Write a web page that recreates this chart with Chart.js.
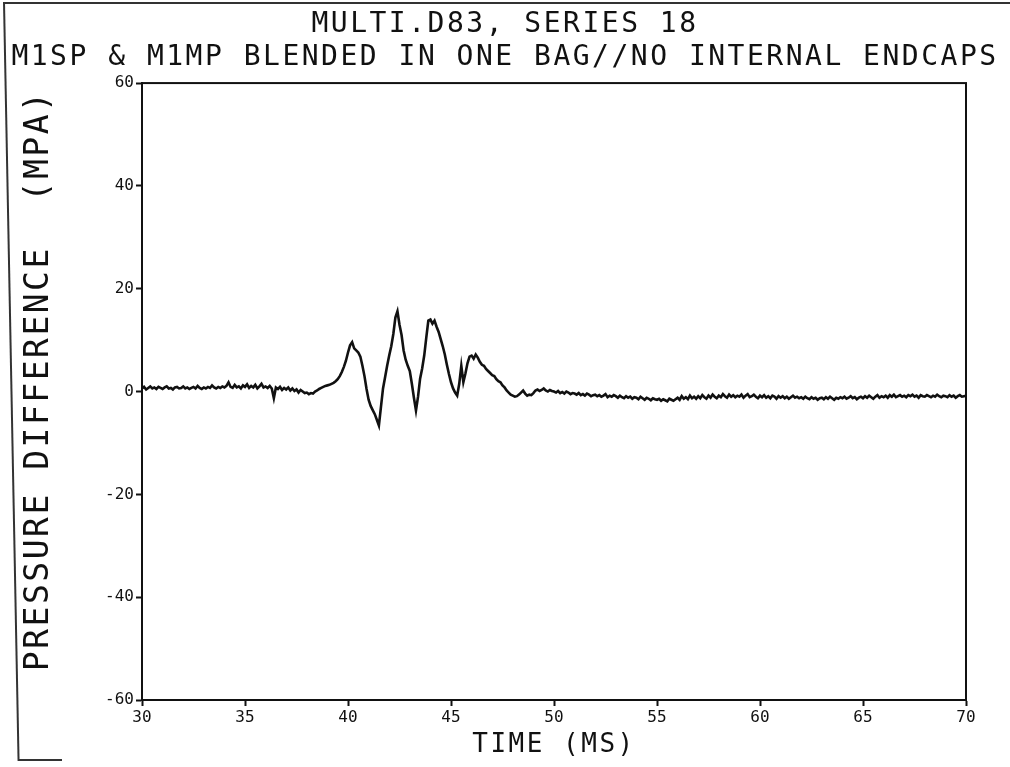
<!DOCTYPE html>
<html>
<head>
<meta charset="utf-8">
<title>MULTI.D83, SERIES 18</title>
<script src="https://cdn.jsdelivr.net/npm/chart.js@4.4.1/dist/chart.umd.min.js"></script>
<style>
    html, body { margin: 0; padding: 0; background: #fff; }
    #wrap { position: relative; width: 1010px; height: 767px; overflow: hidden; background: #fff; }
    #sheet { position: absolute; left: 3px; top: 2px; width: 1010px; height: 757px;
             border-top: 2px solid #333; border-left: 2px solid #333;
             transform: skewX(1.1deg); transform-origin: 0 0; }
    #sheetFoot { position: absolute; left: 18px; top: 759px; width: 44px; border-top: 2px solid #333; }
    canvas { position: absolute; left: 0; top: 0; }
</style>
</head>
<body>
<div id="wrap">
    <div id="sheet"></div>
    <div id="sheetFoot"></div>
    <canvas id="traceChart" width="1010" height="767"></canvas>
</div>
<script>
var titleLines = ['MULTI.D83, SERIES 18', 'M1SP & M1MP BLENDED IN ONE BAG//NO INTERNAL ENDCAPS'];
var xTitle = 'TIME (MS)';
// the plotter put this label a little above the middle of the axis
var yTitle = '\u00a0PRESSURE DIFFERENCE  (MPA)';
var xTicks = [30, 35, 40, 45, 50, 55, 60, 65, 70];
var yTicks = [-60, -40, -20, 0, 20, 40, 60];

// sampled every 0.1 ms from 30 ms, one row per ms
var timeStartMs = 30;
var timeStepMs = 0.1;
var pressureMpa = [
    0.6, 0.9, 0.4, 0.7, 1.0, 0.6, 0.8, 0.5, 0.9, 0.7,
    0.5, 0.8, 1.0, 0.6, 0.7, 0.4, 0.8, 0.9, 0.6, 0.7,
    1.0, 0.6, 0.8, 0.5, 0.7, 0.9, 0.6, 1.1, 0.7, 0.5,
    0.8, 0.6, 0.9, 0.7, 1.2, 0.8, 0.6, 0.9, 0.7, 1.0,
    0.8, 1.1, 1.8, 0.9, 0.7, 1.3, 0.8, 1.0, 0.6, 1.2,
    0.9, 1.4, 0.7, 1.1, 0.8, 1.3, 0.6, 1.0, 1.5, 0.8,
    1.0, 0.7, 1.1, 0.6, -1.3, 0.8, 0.5, 0.9, 0.3, 0.7,
    0.4, 0.8, 0.2, 0.6, 0.1, 0.4, -0.2, 0.3, 0.0, -0.3,
    -0.2, -0.5, -0.3, -0.4, 0.0, 0.2, 0.5, 0.7, 0.9, 1.1,
    1.2, 1.3, 1.5, 1.7, 2.0, 2.4, 3.0, 3.8, 4.8, 6.0,
    7.6, 9.0, 9.6, 8.4, 8.0, 7.6, 6.8, 5.0, 3.0, 0.5,
    -1.6, -2.8, -3.6, -4.4, -5.5, -6.6, -3.0, 0.6, 2.8, 5.0,
    7.0, 8.8, 11.2, 14.4, 15.6, 13.0, 11.0, 8.0, 6.2, 5.0,
    4.0, 1.5, -1.2, -3.7, -1.0, 2.5, 4.5, 7.0, 10.5, 13.8,
    14.0, 13.2, 13.8, 12.6, 11.6, 10.2, 8.8, 7.2, 5.2, 3.4,
    1.8, 0.6, -0.2, -0.8, 1.5, 5.0, 1.8, 3.5, 5.5, 6.8,
    7.0, 6.4, 7.2, 6.6, 5.8, 5.2, 5.0, 4.4, 4.0, 3.6,
    3.2, 3.0, 2.4, 2.0, 1.8, 1.2, 0.8, 0.2, -0.2, -0.6,
    -0.8, -1.0, -0.9, -0.6, -0.2, 0.2, -0.4, -0.8, -0.6, -0.7,
    -0.3, 0.2, 0.4, 0.1, 0.3, 0.6, 0.2, 0.0, 0.3, 0.1,
    0.0, -0.2, 0.1, -0.3, -0.1, -0.4, 0.0, -0.2, -0.5, -0.3,
    -0.4, -0.6, -0.3, -0.7, -0.5, -0.8, -0.4, -0.6, -0.9, -0.7,
    -0.6, -0.9, -0.7, -1.0, -0.8, -0.5, -1.1, -0.8, -1.0, -0.7,
    -0.9, -1.2, -0.8, -1.1, -1.3, -0.9, -1.2, -1.0, -1.4, -1.1,
    -1.2, -1.5, -1.0, -1.3, -1.6, -1.2, -1.4, -1.7, -1.3, -1.5,
    -1.6, -1.4, -1.8, -1.5, -1.7, -1.9, -1.4, -1.6, -1.8, -1.5,
    -1.2, -1.6, -0.9, -1.4, -1.1, -1.5, -0.8, -1.3, -1.0, -1.4,
    -0.9, -1.3, -0.7, -1.1, -1.4, -0.8, -1.2, -0.6, -1.0, -1.3,
    -0.8, -1.1, -0.5, -0.9, -1.2, -0.6, -1.0, -0.7, -1.1, -0.8,
    -1.0, -0.6, -1.2, -0.8, -0.5, -1.1, -0.9, -0.6, -1.0, -1.3,
    -0.8, -1.1, -0.7, -1.2, -0.9, -1.3, -0.8, -1.0, -1.4, -0.9,
    -1.2, -0.9, -1.3, -1.0, -1.4, -1.1, -0.8, -1.2, -1.0, -1.3,
    -1.1, -1.4, -1.0, -1.3, -1.5, -1.1, -1.4, -1.2, -1.6, -1.3,
    -1.2, -1.5, -1.1, -1.4, -1.0, -1.3, -1.6, -1.2, -1.4, -1.1,
    -1.3, -1.0, -1.4, -1.2, -0.9, -1.3, -1.1, -1.5, -1.2, -1.0,
    -1.3, -0.9, -1.2, -0.8, -1.1, -1.4, -1.0, -0.7, -1.2, -0.9,
    -1.1, -0.8, -1.2, -0.7, -1.0, -0.6, -1.1, -0.9, -0.7, -1.0,
    -0.8, -1.1, -0.7, -0.9, -0.6, -1.0, -0.8, -1.2, -0.7, -0.9,
    -1.0, -0.7, -0.9, -1.1, -0.8, -1.0, -0.6, -0.9, -1.1, -0.8,
    -0.9, -1.1, -0.7, -1.0, -0.8, -1.2, -0.9, -0.7, -1.0, -0.9,
    -0.8
];

var INK = '#111';
var FONT = '"DejaVu Sans Mono", "Liberation Mono", monospace';

var tracePoints = pressureMpa.map(function (p, i) {
    return {x: Math.round((timeStartMs + i * timeStepMs) * 10) / 10, y: p};
});

// plotter lettering in the titles is spread out; tick numbers are drawn
// after the trace (ticks.z = 1) with normal spacing
var plotterPlugin = {
    id: 'plotter',
    beforeDraw: function (chart) {
        chart.ctx.letterSpacing = '2.5px';
    },
    beforeDatasetsDraw: function (chart) {
        chart.ctx.letterSpacing = '0px';
    },
    afterDatasetsDraw: function (chart) {
        var a = chart.chartArea;
        var ctx = chart.ctx;
        ctx.save();
        ctx.strokeStyle = INK;
        ctx.lineWidth = 2;
        ctx.strokeRect(a.left, a.top, a.right - a.left, a.bottom - a.top);
        ctx.restore();
    }
};

var tickFont = {family: FONT, size: 16};

new Chart(document.getElementById('traceChart'), {
    type: 'line',
    data: {
        datasets: [{
            label: 'Pressure difference',
            data: tracePoints,
            borderColor: INK,
            borderWidth: 2.6,
            pointRadius: 0,
            tension: 0,
            fill: false
        }]
    },
    options: {
        responsive: false,
        animation: false,
        devicePixelRatio: 1,
        layout: {padding: 0},
        plugins: {
            legend: {display: false},
            tooltip: {enabled: false},
            title: {
                display: true,
                text: titleLines,
                color: INK,
                font: {family: FONT, size: 28, weight: 'normal', lineHeight: 1.18},
                padding: {top: 8, bottom: 9}
            }
        },
        scales: {
            x: {
                type: 'linear',
                min: 30,
                max: 70,
                afterBuildTicks: function (s) {
                    s.ticks = xTicks.map(function (v) { return {value: v}; });
                },
                afterFit: function (s) { s.height = 67; },
                grid: {drawOnChartArea: false, drawTicks: true, tickLength: 6, tickWidth: 2, tickColor: INK},
                border: {display: true, color: INK, width: 2},
                ticks: {color: INK, font: tickFont, padding: 2, maxRotation: 0, z: 1},
                title: {
                    display: true,
                    text: xTitle,
                    color: INK,
                    font: {family: FONT, size: 26},
                    padding: {top: 0, bottom: 6}
                }
            },
            y: {
                type: 'linear',
                min: -60,
                max: 60,
                afterBuildTicks: function (s) {
                    s.ticks = yTicks.map(function (v) { return {value: v}; });
                },
                afterFit: function (s) { s.width = 142; },
                grid: {drawOnChartArea: false, drawTicks: true, tickLength: 6, tickWidth: 2, tickColor: INK},
                border: {display: true, color: INK, width: 2},
                ticks: {color: INK, font: tickFont, padding: 2, z: 1},
                title: {
                    display: true,
                    text: yTitle,
                    color: INK,
                    font: {family: FONT, size: 33},
                    padding: {top: 20, bottom: 0}
                }
            },
            // empty strip on the right so the titles centre on the page
            yPad: {
                type: 'linear',
                position: 'right',
                min: 0,
                max: 1,
                afterFit: function (s) { s.width = 44; },
                grid: {display: false},
                border: {display: false},
                ticks: {display: false}
            }
        }
    },
    plugins: [plotterPlugin]
});
</script>
</body>
</html>
